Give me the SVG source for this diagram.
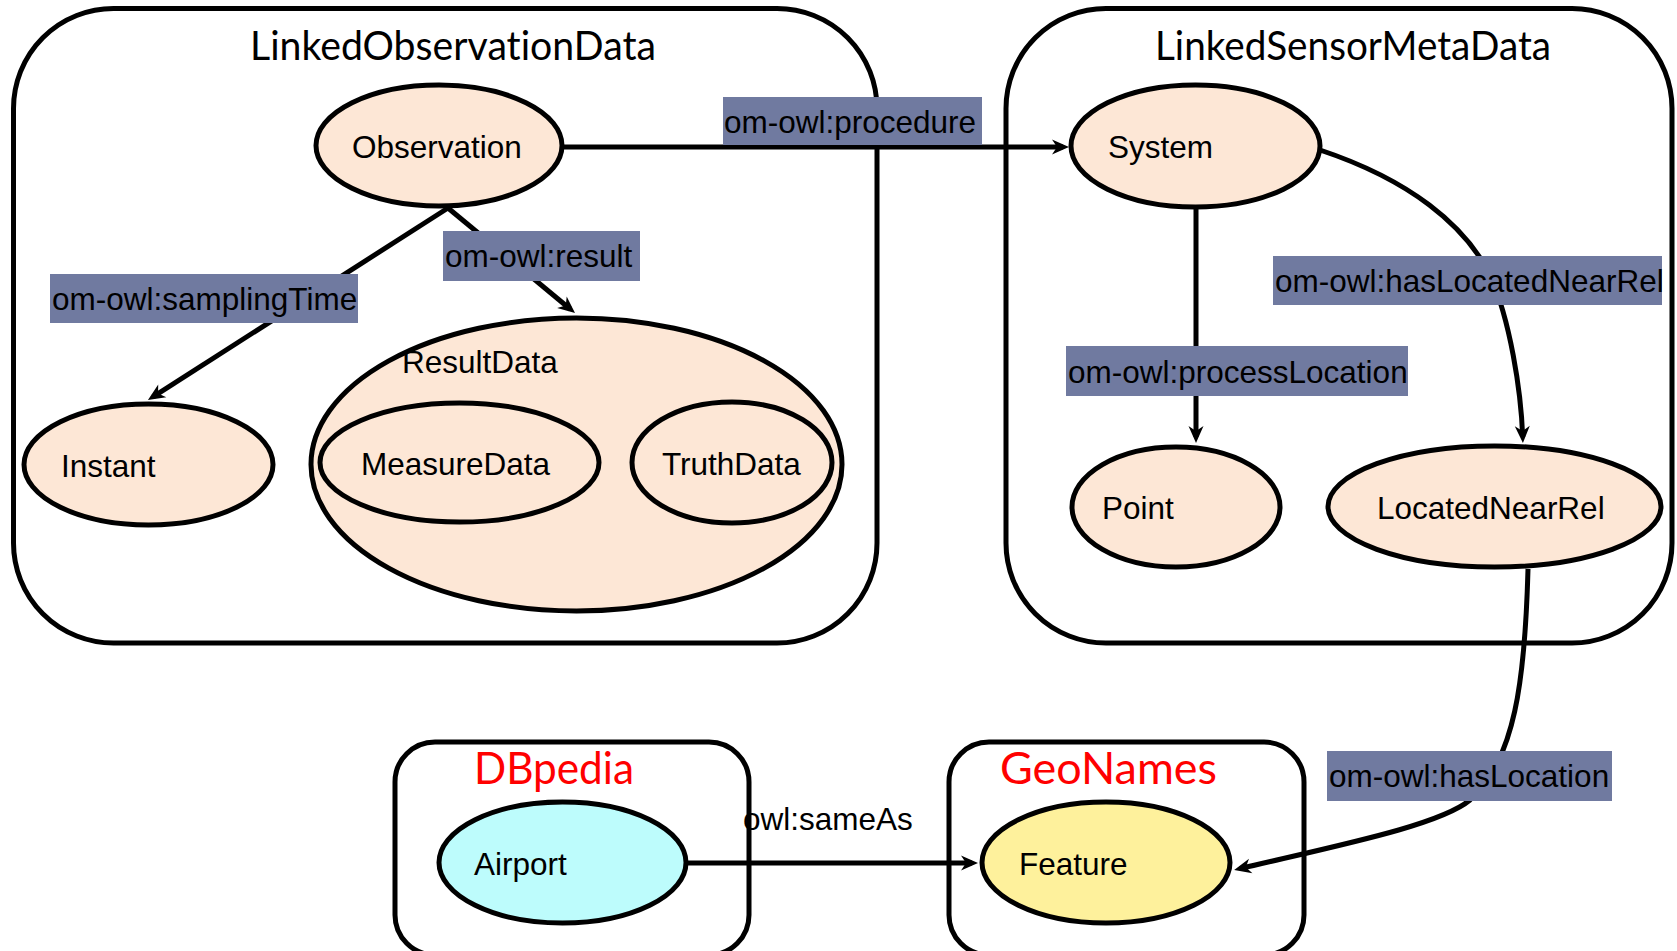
<svg xmlns="http://www.w3.org/2000/svg" width="1677" height="951" viewBox="0 0 1677 951">
  <style>
    .frame { fill: #ffffff; stroke: #000000; stroke-width: 5; }
    .node { fill: #fde7d6; stroke: #000000; stroke-width: 5; }
    .airport { fill: #bdfcfc; }
    .feature { fill: #fef19c; }
    .title { font-family: Lato, "Open Sans", sans-serif; font-size: 40px; fill: #000000; font-variant-ligatures: none; }
    .src { font-family: Lato, "Open Sans", sans-serif; font-size: 44px; fill: #ff0000; font-variant-ligatures: none; }
    .txt { font-family: "Liberation Sans", Arial, sans-serif; font-size: 31.5px; fill: #000000; }
    .edge { fill: none; stroke: #000000; stroke-width: 5; marker-end: url(#arrow); }
    .tag { fill: #707aa0; }
  </style>
  <defs>
    <marker id="arrow" viewBox="-12 -8 20 16" refX="0" refY="0" markerWidth="20" markerHeight="16" markerUnits="userSpaceOnUse" orient="auto">
      <path d="M6,0 L-11,-7.5 L-6,0 L-11,7.5 Z" fill="#000000"/>
    </marker>
  </defs>

  <!-- container frames -->
  <g id="linked-observation-data">
    <rect class="frame" x="13.5" y="8.5" width="863.5" height="634.5" rx="100" ry="100"/>
    <text class="title" x="250" y="60" textLength="406" lengthAdjust="spacingAndGlyphs">LinkedObservationData</text>
  </g>
  <g id="linked-sensor-meta-data">
    <rect class="frame" x="1006" y="8.5" width="666" height="634.5" rx="100" ry="100"/>
    <text class="title" x="1155" y="60" textLength="396" lengthAdjust="spacingAndGlyphs">LinkedSensorMetaData</text>
  </g>
  <g id="dbpedia">
    <rect class="frame" x="395" y="742" width="354" height="213" rx="40" ry="40"/>
    <text class="src" x="474" y="784" textLength="160" lengthAdjust="spacingAndGlyphs">DBpedia</text>
  </g>
  <g id="geonames">
    <rect class="frame" x="949" y="742" width="355" height="213" rx="40" ry="40"/>
    <text class="src" x="1000" y="784" textLength="217" lengthAdjust="spacingAndGlyphs">GeoNames</text>
  </g>

  <!-- class nodes -->
  <g id="observation">
    <ellipse class="node" cx="439" cy="145.5" rx="123" ry="60.5"/>
    <text class="txt" x="352" y="158">Observation</text>
  </g>
  <g id="instant">
    <ellipse class="node" cx="148.5" cy="464.5" rx="124.5" ry="60.5"/>
    <text class="txt" x="61" y="477">Instant</text>
  </g>
  <g id="result-data">
    <ellipse class="node" cx="576.5" cy="464.5" rx="265.5" ry="146.5"/>
    <text class="txt" x="402" y="373">ResultData</text>
  </g>
  <g id="measure-data">
    <ellipse class="node" cx="459.5" cy="462.5" rx="139.5" ry="59.5"/>
    <text class="txt" x="361" y="475">MeasureData</text>
  </g>
  <g id="truth-data">
    <ellipse class="node" cx="732" cy="462.5" rx="100" ry="60.5"/>
    <text class="txt" x="662" y="475">TruthData</text>
  </g>
  <g id="system">
    <ellipse class="node" cx="1195.5" cy="146" rx="124.5" ry="61"/>
    <text class="txt" x="1108" y="158">System</text>
  </g>
  <g id="point">
    <ellipse class="node" cx="1176" cy="507" rx="104" ry="60"/>
    <text class="txt" x="1102" y="519">Point</text>
  </g>
  <g id="located-near-rel">
    <ellipse class="node" cx="1494.5" cy="506.5" rx="166.5" ry="60.5"/>
    <text class="txt" x="1377" y="519">LocatedNearRel</text>
  </g>
  <g id="airport">
    <ellipse class="node airport" cx="562.5" cy="862.5" rx="123.5" ry="60.5"/>
    <text class="txt" x="474" y="875">Airport</text>
  </g>
  <g id="feature">
    <ellipse class="node feature" cx="1106" cy="862.5" rx="124" ry="60.5"/>
    <text class="txt" x="1019" y="875">Feature</text>
  </g>

  <!-- properties -->
  <g id="connectors">
    <line class="edge" x1="564" y1="147" x2="1063" y2="147"/>
    <line class="edge" x1="448" y1="208" x2="153" y2="396.8"/>
    <line class="edge" x1="448" y1="208" x2="570.4" y2="309.2"/>
    <line class="edge" x1="1196" y1="209" x2="1196" y2="437"/>
    <path class="edge" d="M1320,150 C1410,180 1465,225 1490,275 C1510,320 1521,390 1522.7,437"/>
    <path class="edge" d="M1528,569 C1525,680 1515,760 1470,800 C1440,825 1340,845 1240,868.6"/>
    <line class="edge" x1="688" y1="863" x2="972" y2="863"/>

    <rect class="tag" x="723" y="97" width="259" height="48"/>
    <text class="txt" x="724" y="133">om-owl:procedure</text>
    <rect class="tag" x="50" y="274" width="308" height="49"/>
    <text class="txt" x="52" y="310">om-owl:samplingTime</text>
    <rect class="tag" x="443" y="231" width="197" height="50"/>
    <text class="txt" x="445" y="267">om-owl:result</text>
    <rect class="tag" x="1273" y="256" width="389" height="49"/>
    <text class="txt" x="1275" y="292">om-owl:hasLocatedNearRel</text>
    <rect class="tag" x="1066" y="346" width="342" height="50"/>
    <text class="txt" x="1068" y="383">om-owl:processLocation</text>
    <rect class="tag" x="1327" y="751" width="285" height="50"/>
    <text class="txt" x="1329" y="787">om-owl:hasLocation</text>
    <text class="txt" x="743" y="830">owl:sameAs</text>
  </g>
</svg>
